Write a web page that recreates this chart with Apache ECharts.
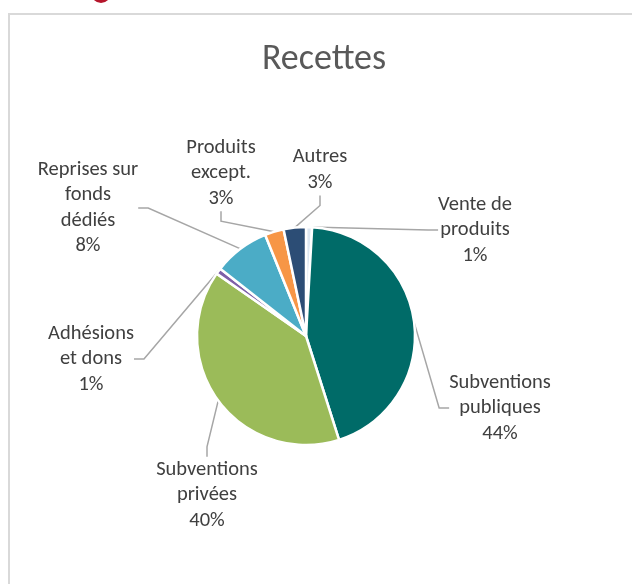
<!DOCTYPE html>
<html>
<head>
<meta charset="utf-8">
<script src="https://cdn.jsdelivr.net/npm/echarts@6/dist/echarts.min.js"></script>
<style>
html,body{margin:0;padding:0;background:#fff;}
#main{width:632px;height:584px;}
</style>
</head>
<body>
<div id="main"></div>
<script>
// Data
const categories = ['Vente de produits', 'Subventions publiques', 'Subventions privées', 'Adhésions et dons', 'Reprises sur fonds dédiés', 'Produits except.', 'Autres'];
const shares = [0.9, 44.2, 39.6, 0.9, 8.3, 2.8, 3.3];
const wrappedNames = ['Vente de\nproduits', 'Subventions\npubliques', 'Subventions\nprivées', 'Adhésions\net dons', 'Reprises sur\nfonds\ndédiés', 'Produits\nexcept.', 'Autres'];

// Styles / layout (not data)
const colors = ['#dce6f1', '#006b68', '#9bbb59', '#7e5fa8', '#4bacc6', '#f79646', '#2c4d75'];
const labelPos = [[475, 230], [500, 408], [207, 495], [91, 359], [88, 208], [221, 173], [320, 170]];

const total = shares.reduce((a, b) => a + b, 0);
const chart = echarts.init(document.getElementById('main'));
chart.setOption({
  backgroundColor: '#fff',
  animation: false,
  title: {
    text: 'Recettes',
    left: 319,
    top: 37,
    textAlign: 'center',
    textStyle: {fontFamily: 'Carlito, Lato, sans-serif', fontSize: 36, fontWeight: 'normal', color: '#595959'}
  },
  graphic: [
    {type: 'rect', shape: {x: 9, y: 14, width: 700, height: 700}, style: {fill: 'none', stroke: '#d9d9d9', lineWidth: 2}, silent: true},
    {type: 'circle', shape: {cx: 101, cy: -7, r: 10}, style: {fill: '#b5152b'}, silent: true}
  ],
  series: [{
    type: 'pie',
    center: [306, 336],
    radius: [0, 109],
    startAngle: 90,
    clockwise: true,
    avoidLabelOverlap: false,
    data: categories.map((c, i) => ({name: c, value: shares[i], itemStyle: {color: colors[i]}})),
    itemStyle: {borderColor: '#fff', borderWidth: 2.5},
    label: {
      show: true,
      position: 'outside',
      formatter: p => wrappedNames[p.dataIndex] + '\n' + Math.round(p.value / total * 100) + '%',
      fontFamily: 'Carlito, Lato, sans-serif',
      fontSize: 20.5,
      lineHeight: 25.5,
      color: '#404040',
      align: 'center'
    },
    labelLine: {show: true, length: 20, length2: 10, smooth: false, lineStyle: {color: '#a6a6a6', width: 1.5}},
    labelLayout: p => ({
      x: labelPos[p.dataIndex][0],
      y: labelPos[p.dataIndex][1],
      align: 'center',
      verticalAlign: 'middle'
    }),
    emphasis: {disabled: true}
  }]
});
</script>
</body>
</html>
